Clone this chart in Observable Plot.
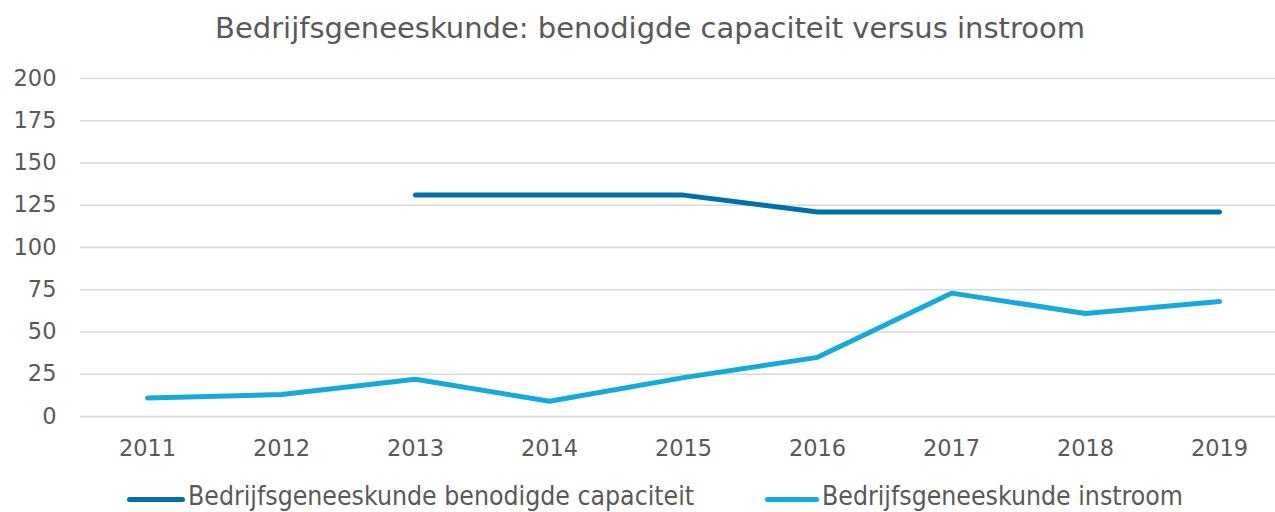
<!DOCTYPE html>
<html>
<head>
<meta charset="utf-8">
<script src="https://cdn.jsdelivr.net/npm/d3@7"></script>
<script src="https://cdn.jsdelivr.net/npm/@observablehq/plot@0.6"></script>
<style>
  html, body { margin: 0; padding: 0; background: #fff; overflow: hidden; }
  body { width: 1275px; height: 512px; font-family: "DejaVu Sans", Verdana, sans-serif; color: #595959; }
  #title { height: 56px; line-height: 56px; font-size: 29px; color: #595959; position: relative; white-space: nowrap; }
  #title span { position: absolute; left: 215px; }
  #chart svg { display: block; }
  #legend { position: relative; height: 46px; font-size: 26px; color: #595959; }
  .item { position: absolute; top: 17px; line-height: 26px; white-space: nowrap; transform: scaleX(0.913); transform-origin: 0 0; }
  .swatch { position: absolute; top: 31px; height: 5px; border-radius: 3px; }
</style>
</head>
<body>
<div id="title"><span>Bedrijfsgeneeskunde: benodigde capaciteit versus instroom</span></div>
<div id="chart"></div>
<div id="legend"></div>
<script>
const years = [2011, 2012, 2013, 2014, 2015, 2016, 2017, 2018, 2019];
const capaciteit = [null, null, 131, 131, 131, 121, 121, 121, 121];
const instroom = [11, 13, 22, 9, 23, 35, 73, 61, 68];
const seriesNames = ["Bedrijfsgeneeskunde benodigde capaciteit", "Bedrijfsgeneeskunde instroom"];
const seriesColors = ["#0070AB", "#14ABDB"];
const yTicks = [0, 25, 50, 75, 100, 125, 150, 175, 200];

const data = [];
years.forEach((yr, i) => {
  if (capaciteit[i] != null) data.push({year: yr, value: capaciteit[i], series: seriesNames[0]});
});
years.forEach((yr, i) => {
  data.push({year: yr, value: instroom[i], series: seriesNames[1]});
});

const chart = Plot.plot({
  width: 1275,
  height: 410,
  marginTop: 22,
  marginBottom: 50,
  marginLeft: 80,
  marginRight: 0,
  style: { fontFamily: "DejaVu Sans, Verdana, sans-serif", fontSize: "22.5px", color: "#595959", background: "#fff" },
  x: { type: "point", domain: years, range: [147, 1219], padding: 0, label: null },
  y: { domain: [0, 200], label: null },
  color: { domain: seriesNames, range: seriesColors },
  marks: [
    Plot.gridY(yTicks, { stroke: "#D9D9D9", strokeOpacity: 1, strokeWidth: 1.5 }),
    Plot.axisY({ ticks: yTicks, tickSize: 0, tickPadding: 24, label: null, fill: "#595959" }),
    Plot.axisX({ tickSize: 0, tickPadding: 24, label: null, fill: "#595959", tickFormat: d => String(d) }),
    Plot.lineY(data, { x: "year", y: "value", z: "series", stroke: "series", strokeWidth: 5, strokeLinecap: "round", strokeLinejoin: "round" })
  ]
});
document.getElementById("chart").appendChild(chart);

const legend = document.getElementById("legend");
const legendPos = [[127, 188], [765, 822]];
seriesNames.forEach((name, i) => {
  const sw = document.createElement("div");
  sw.className = "swatch";
  sw.style.left = legendPos[i][0] + "px";
  sw.style.width = (legendPos[i][1] - legendPos[i][0] - 3) + "px";
  sw.style.background = seriesColors[i];
  legend.appendChild(sw);
  const t = document.createElement("div");
  t.className = "item";
  t.style.left = legendPos[i][1] + "px";
  t.textContent = name;
  legend.appendChild(t);
});
</script>
</body>
</html>
